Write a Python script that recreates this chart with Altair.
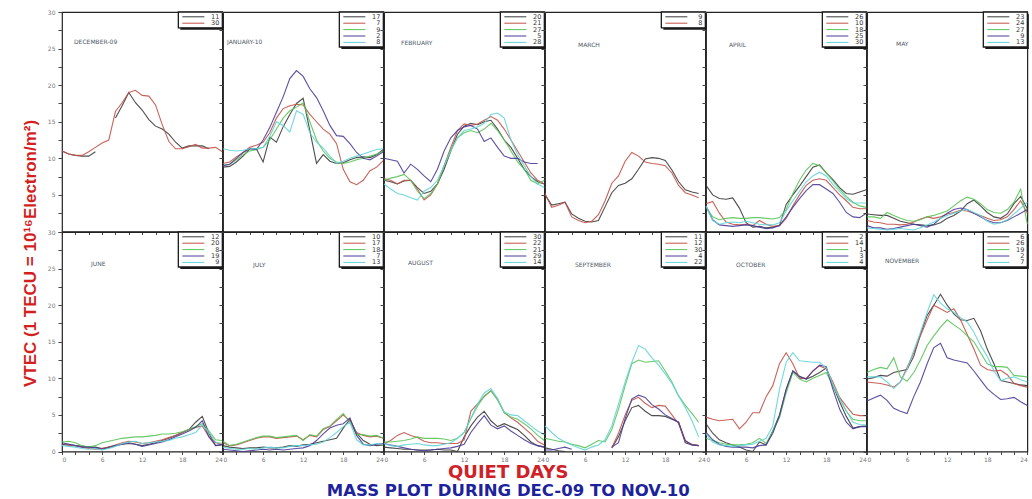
import altair as alt
import pandas as pd

# Hour of day (LT) for every reading; None marks a missing reading.
HOURS = list(range(25))

# Line colour by position of the day in each month's list.
COLORS = ["#3b3b3b", "#c25248", "#58c458", "#4b3c98", "#62d4d8"]

DEC = {
    "11": [11.0, 10.6, 10.4, 10.3, 10.3, 10.9, None, None, 15.5, 17.2, 19.0, 17.6, 16.6, 15.3, 14.4, 14.0, 13.3, 12.2, 11.4, 11.7, 11.7, 11.7, 11.3, None, None],
    "30": [11.0, 10.6, 10.4, 10.4, 10.9, 11.5, 12.1, 12.5, 16.4, 17.6, 19.0, 19.3, 18.6, 18.5, 17.3, 14.6, 12.3, 11.3, 11.3, 11.6, 11.9, 11.4, 11.4, 11.5, 10.9],
}
JAN = {
    "17": [8.8, 8.9, 9.5, 10.3, 11.3, 11.3, 9.5, 12.9, 12.2, 14.3, 16.0, 17.5, 18.2, 13.8, 9.3, 10.5, 9.6, 9.3, 9.4, 9.8, 10.1, 10.2, 10.1, 10.5, 11.2],
    "7": [9.3, 9.5, 10.2, 10.8, 11.5, 11.8, 12.2, 13.5, 15.5, 16.8, 17.2, 17.4, 17.3, 16.0, 15.0, 14.0, 13.3, 12.0, 8.5, 6.8, 6.4, 7.0, 8.3, 8.8, 9.7],
    "9": [9.0, 9.2, 9.8, 10.5, 11.0, 11.2, 11.5, 12.5, 14.0, 15.5, 16.5, 17.0, 17.6, 15.0, 12.5, 11.0, 10.0, 9.5, 9.3, 9.5, 9.8, 10.0, 10.3, 10.6, 11.0],
    "2": [9.0, 9.2, 10.0, 10.8, 11.3, 11.2, 12.5, 14.2, 16.3, 18.4, 20.9, 22.0, 21.2, 19.5, 18.3, 16.5, 14.5, 13.1, 13.0, 12.0, 10.8, 10.0, 9.8, 10.3, 10.9],
    "8": [11.3, 11.1, 11.0, 11.1, 11.3, 11.3, 11.5, 13.0, 15.0, 14.5, 13.6, 16.5, 16.0, 13.5, 12.2, 11.4, 10.3, 9.3, 9.6, 10.0, 10.3, 10.6, 10.9, 11.2, 11.3],
}
FEB = {
    "20": [7.0, 6.8, 6.5, 6.9, 7.0, 6.0, 5.2, 5.5, 6.5, 8.5, 11.0, 13.3, 14.4, 14.8, 14.6, 15.0, 15.2, 14.0, 12.5, 11.5, 10.0, 8.5, 7.5, 6.8, 6.5],
    "21": [7.2, 7.0, 6.5, 7.0, 7.0, 5.8, 4.3, 5.0, 6.5, 9.0, 11.5, 13.8, 14.7, 14.5, 14.7, 15.2, 15.7, 15.2, 14.0, 12.5, 11.0, 9.5, 8.0, 7.0, 6.5],
    "27": [7.0, 7.3, 7.5, 7.8, 7.0, 5.5, 4.5, 5.2, 6.5, 9.0, 11.2, 12.8, 13.5, 13.8, 13.5, 14.0, 14.8, 13.8, 12.5, 11.0, 9.5, 8.5, 7.0, 6.5, 7.0],
    "5": [10.0, 9.8, 9.6, 8.0, 9.2, 8.5, 7.6, 6.8, 8.5, 11.0, 12.8, 13.8, 14.3, 14.5, 14.0, 12.3, 12.8, 11.5, 10.3, 10.0, 10.0, 9.5, 9.3, 9.3, None],
    "28": [6.5, 5.8, 5.2, 5.0, 4.6, 4.3, 5.5, 6.0, 7.0, 9.0, 11.0, 12.8, 13.8, 14.0, 14.3, 14.8, 16.0, 16.2, 15.5, 12.5, 10.5, 9.0, 7.5, 6.5, 6.0],
}
MAR = {
    "9": [5.0, 3.6, 3.8, 4.0, 2.4, 1.8, 1.4, 1.3, 1.5, 3.4, 5.3, 6.3, 6.6, 7.2, 8.5, 9.9, 10.1, 10.0, 9.7, 8.4, 6.8, 5.7, 5.4, 5.2, None],
    "8": [5.2, 3.3, 3.6, 4.0, 2.0, 1.5, 1.2, 1.4, 2.3, 4.2, 6.6, 7.6, 9.6, 10.8, 10.3, 9.5, 9.3, 9.2, 9.0, 8.0, 6.3, 5.3, 5.0, 4.6, None],
}
APR = {
    "26": [6.3, 5.0, 4.5, 4.4, 4.6, 3.2, 1.2, 0.6, 0.7, 0.5, 0.6, 0.8, 3.7, 5.0, 6.2, 7.5, 8.8, 9.1, 8.0, 7.1, 6.0, 5.2, 5.1, 5.4, 5.7],
    "10": [3.8, 4.1, 2.5, 1.3, 1.0, 0.9, 1.0, 0.8, 1.5, 1.0, 0.7, 0.8, 1.8, 3.5, 5.0, 6.3, 7.0, 7.2, 7.0, 6.0, 5.0, 4.2, 3.3, 3.1, 3.1],
    "18": [3.3, 2.0, 1.6, 1.8, 1.9, 1.8, 1.8, 1.9, 1.9, 1.8, 1.7, 1.9, 3.0, 5.2, 7.0, 8.4, 9.3, 9.0, 8.0, 6.9, 5.8, 4.8, 4.0, 3.5, 3.3],
    "25": [3.5, 1.6, 0.9, 0.8, 0.7, 0.8, 0.9, 0.8, 0.6, 0.4, 0.5, 0.8, 2.0, 3.3, 4.5, 5.6, 6.4, 6.4, 5.8, 5.2, 4.0, 2.6, 2.0, 1.9, 2.5],
    "30": [3.5, 1.5, 1.0, 1.2, 1.3, 1.2, 1.4, 1.2, 1.0, 0.9, 0.9, 1.2, 2.8, 4.2, 5.5, 6.8, 7.6, 8.1, 7.6, 6.4, 5.5, 4.5, 3.9, 3.9, 3.9],
}
MAY = {
    "23": [2.4, 2.3, 2.2, 2.2, 1.8, 1.4, 1.2, 1.0, 0.9, 0.8, 0.9, 1.2, 1.8, 2.2, 2.8, 3.8, 4.3, 3.5, 2.6, 2.0, 1.8, 2.4, 3.8, 4.8, 3.1],
    "24": [1.5, 1.3, 1.2, 1.0, 1.0, 0.9, 1.0, 1.3, 1.7, 2.0, 1.8, 2.0, 2.4, 2.6, 2.9, 2.8, 2.5, 2.2, 1.8, 1.5, 1.6, 2.0, 3.0, 4.2, 2.5],
    "27": [2.0, 2.0, 1.8, 2.6, 2.2, 1.8, 1.5, 1.4, 1.6, 2.0, 2.2, 2.5, 2.8, 3.5, 4.2, 4.7, 4.4, 3.8, 3.0, 2.6, 2.5, 3.0, 4.0, 5.8, 1.0],
    "9": [0.8, 0.5, 0.5, 0.3, 0.4, 0.6, 0.8, 1.0, 0.8, 0.6, 1.0, 1.8, 2.5, 3.0, 3.2, 3.0, 2.5, 2.0, 1.5, 1.2, 1.2, 1.5, 2.0, 2.5, 3.0],
    "13": [0.5, 0.4, 0.3, 0.2, 0.3, 0.4, 0.3, 0.2, 0.5, 0.9, 1.3, 1.8, 2.2, 2.5, 2.8, 3.0, 2.6, 2.2, 1.4, 1.0, 1.2, 1.6, 2.4, 3.2, 4.0],
}
JUN = {
    "12": [1.2, 1.0, 0.8, 0.7, 0.6, 0.6, 0.4, 0.6, 0.8, 1.0, 1.1, 1.0, 0.8, 1.0, 1.2, 1.5, 1.8, 2.2, 2.6, 3.0, 4.0, 4.8, 2.5, 0.8, 0.9],
    "20": [1.0, 0.8, 0.8, 0.6, 0.4, 0.3, 0.4, 0.6, 0.9, 1.2, 1.4, 1.3, 1.1, 1.2, 1.4, 1.6, 1.9, 2.2, 2.6, 3.0, 3.3, 3.5, 2.0, 1.2, 1.0],
    "8": [1.3, 1.4, 1.2, 0.8, 0.6, 0.8, 1.2, 1.4, 1.6, 1.8, 1.9, 2.0, 2.0, 2.1, 2.2, 2.4, 2.4, 2.5, 2.7, 3.0, 3.4, 3.8, 2.8, 1.6, 1.5],
    "19": [1.0, 1.0, 0.8, 0.6, 0.6, 0.5, 0.3, 0.5, 0.8, 1.0, 1.2, 1.0, 0.7, 0.9, 1.1, 1.3, 1.6, 2.0, 2.4, 2.8, 3.3, 4.2, 2.0, 0.8, 1.0],
    "9": [0.8, 0.7, 0.6, 0.4, 0.3, 0.4, 0.2, 0.4, 0.7, 1.1, 1.3, 1.4, 1.1, 1.2, 1.3, 1.4, 1.5, 1.8, 2.0, 2.3, 2.6, 3.6, 2.6, 1.3, 1.1],
}
JUL = {
    "10": [0.8, 0.6, 0.5, 0.4, 0.5, 0.5, 0.6, 0.5, 0.5, 0.6, 0.8, 0.7, 0.9, 1.0, 1.2, 1.4, 1.6, 1.8, 3.2, 4.4, 2.5, 1.5, 1.0, 0.8, 0.9],
    "17": [1.2, 0.8, 0.9, 1.2, 1.5, 1.8, 2.0, 2.0, 1.8, 1.9, 2.0, 2.1, 1.6, 2.2, 2.0, 3.0, 3.4, 4.2, 5.0, 4.2, 2.6, 2.2, 2.0, 2.1, 1.8],
    "18": [1.4, 0.8, 1.0, 1.3, 1.6, 1.9, 2.1, 2.1, 1.9, 2.0, 2.1, 2.2, 1.5, 2.3, 2.1, 3.1, 3.5, 4.4, 5.2, 4.0, 2.3, 2.3, 2.1, 2.2, 1.8],
    "7": [0.3, 0.2, 0.1, 0.0, 0.1, 0.2, 0.3, 0.2, 0.3, 0.2, 0.3, 0.4, 0.5, 0.8, 1.5, 2.4, 3.2, 3.6, 3.8, 4.6, 2.2, 1.0, 0.8, 1.0, 1.1],
    "13": [0.6, 0.4, 0.3, 0.3, 0.4, 0.3, 0.5, 0.6, 0.5, 0.5, 0.7, 0.8, 0.8, 0.9, 1.0, 1.3, 1.9, 2.6, 3.4, 4.0, 1.6, 0.9, 0.9, 1.1, 1.0],
}
AUG = {
    "30": [0.6, 0.5, 0.4, 0.3, 0.3, 0.2, 0.2, 0.2, 0.3, 0.2, 0.2, 0.0, 2.0, 3.5, 4.7, 5.5, 4.2, 3.4, 3.8, 3.4, 3.0, 2.2, 1.3, 0.8, 0.6],
    "22": [1.1, 1.5, 2.2, 2.6, 2.2, 1.9, 1.4, 1.2, 1.2, 1.1, 1.1, 1.1, 1.6, 5.5, 6.5, 7.5, 8.3, 7.2, 5.3, 4.6, 4.0, 3.2, 2.4, 1.4, 0.9],
    "21": [1.3, 1.3, 1.4, 1.5, 1.7, 2.0, 1.8, 1.8, 1.8, 1.7, 1.5, 1.8, 2.6, 4.5, 6.2, 7.6, 8.3, 7.0, 5.3, 4.7, 4.4, 3.8, 3.1, 2.2, 1.5],
    "29": [1.1, 0.9, 0.7, 0.5, 0.3, 0.2, 0.1, 0.2, 0.3, 0.4, 0.5, 0.7, 1.0, 2.6, 3.8, 4.9, 3.6, 3.1, 3.5, 2.8, 2.2, 1.6, 1.1, 0.8, 0.6],
    "14": [1.1, 0.8, 0.7, 0.9, 1.0, 1.1, 0.9, 0.8, 0.8, 1.0, 1.2, 1.8, 2.6, 4.5, 6.5, 8.0, 8.6, 7.2, 5.4, 5.0, 4.9, 4.2, 3.5, 2.8, 2.3],
}
SEP = {
    "11": [0.5, 0.3, 0.1, 0.0, None, None, None, None, None, None, 0.5, 2.0, 4.2, 6.0, 6.3, 5.5, 4.9, 4.9, 4.8, 4.4, 4.0, 1.2, 0.9, 0.8, None],
    "12": [None, None, None, None, None, None, None, None, None, None, 0.5, 2.5, 5.0, 7.0, 7.4, 6.6, 6.0, 6.3, 6.2, 5.0, 3.8, 1.4, 1.0, 0.8, None],
    "30": [1.8, 1.6, 1.4, 1.3, 1.0, 0.8, 0.5, 1.0, 1.5, 1.3, 3.0, 5.8, 9.0, 12.0, 12.5, 12.2, 12.3, 12.4, 11.0, 9.5, 7.6, 6.3, 5.2, 4.0, None],
    "4": [0.2, 0.2, 0.4, 0.6, 0.3, None, None, None, None, None, 0.6, 1.2, 4.5, 7.2, 7.7, 7.4, 6.4, 5.8, 5.0, 4.5, 4.0, 1.5, 0.9, 0.8, None],
    "22": [3.5, 2.6, 1.8, 1.3, 0.9, 0.5, 0.2, 0.6, 0.9, 1.6, 3.5, 6.5, 9.5, 12.2, 14.5, 14.0, 12.8, 11.8, 10.6, 9.3, 7.6, 6.0, 4.2, 2.0, None],
}
OCT = {
    "2": [3.8, 2.5, 1.6, 1.2, 0.9, 0.6, 0.2, 0.0, 1.3, 0.9, 2.8, 5.0, 8.5, 11.0, 10.3, 9.9, 10.3, 10.8, 11.4, 9.0, 6.8, 4.8, 3.2, 3.4, 3.5],
    "14": [4.7, 4.4, 4.2, 4.3, 4.4, 3.1, 4.0, 5.3, 5.3, 7.5, 9.0, 12.0, 13.5, 12.0, 10.0, 10.0, 11.0, 11.7, 11.3, 9.5, 7.4, 6.2, 5.1, 4.9, 4.9],
    "1": [1.8, 1.5, 1.2, 1.0, 0.9, 0.9, 1.0, 1.2, 1.8, 1.1, 2.8, 4.6, 8.0, 10.8, 9.9, 9.5, 10.0, 10.4, 10.8, 9.0, 7.2, 5.5, 4.4, 4.2, 4.2],
    "3": [2.6, 1.6, 1.0, 0.7, 0.6, 0.6, 0.6, 0.5, 0.8, 0.9, 2.5, 4.9, 8.5, 11.0, 10.2, 9.9, 11.0, 11.8, 11.6, 8.5, 5.8, 4.0, 3.1, 3.4, 3.4],
    "4": [2.4, 1.3, 0.9, 0.8, 0.7, 0.8, 0.9, 1.0, 1.4, 1.8, 3.5, 8.5, 12.2, 13.5, 12.4, 12.3, 12.2, 12.2, 11.4, 9.2, 7.2, 5.6, 4.0, 3.7, 3.6],
}
NOV = {
    "6": [9.9, 10.1, 10.4, 10.3, 10.8, 11.0, 11.2, 13.0, 16.0, 18.6, 20.0, 21.5, 20.0, 18.8, 18.0, 17.9, 18.2, 16.5, 14.0, 12.0, 9.7, 9.5, 9.3, 9.1, 9.0],
    "26": [9.5, 9.4, 9.3, 9.1, 8.8, 9.5, 11.5, 13.5, 15.8, 18.0, 20.0, 19.5, 19.0, 19.5, 18.0, 16.0, 14.0, 11.8, 11.2, 11.0, 11.1, 10.5, 9.3, 9.0, 8.8],
    "19": [10.8, 11.2, 11.5, 11.3, 12.8, 10.2, 9.6, 10.8, 12.5, 14.5, 15.8, 17.0, 18.0, 17.3, 16.7, 15.8, 15.0, 13.5, 12.0, 11.6, 11.6, 11.5, 10.4, 10.3, 10.2],
    "2": [6.9, 7.3, 7.7, 7.0, 5.9, 5.5, 5.2, 7.5, 9.5, 12.0, 14.2, 14.8, 12.8, 12.5, 12.3, 12.1, 11.0, 9.8, 8.6, 7.8, 7.1, 7.2, 7.4, 6.8, 6.3],
    "7": [10.2, 10.2, 10.2, 9.5, 8.6, 9.5, 11.2, 13.8, 16.3, 19.0, 21.4, 20.3, 19.5, 19.0, 18.3, 17.7, 16.3, 14.5, 13.0, 11.0, 9.7, 10.0, 10.2, 9.8, 9.5],
}

MONTHS = [
    ("DECEMBER-09", DEC), ("JANUARY-10", JAN), ("FEBRUARY", FEB),
    ("MARCH", MAR), ("APRIL", APR), ("MAY", MAY),
    ("JUNE", JUN), ("JULY", JUL), ("AUGUST", AUG),
    ("SEPTEMBER", SEP), ("OCTOBER", OCT), ("NOVEMBER", NOV),
]

Y_TITLE = "VTEC (1 TECU = 10\u00b9\u2076Electron/m\u00b2)"
TITLE = "QUIET DAYS"
SUBTITLE = "MASS PLOT DURING DEC-09 TO NOV-10"

# Layout (pixels)
PW, PH = 160.33, 219.5
LABEL_POS = [(12, 30), (4, 30), (17, 31), (33, 33), (23, 33), (29, 32),
             (29, 32), (30, 33), (24, 31), (30, 33), (30, 33), (18, 29)]

color_scale = alt.Scale(domain=["1", "2", "3", "4", "5"], range=COLORS)


def long_table(series):
    rows = []
    for i, vals in enumerate(series.values()):
        part = 0
        for h, v in zip(HOURS, vals):
            if v is None:
                part += 1
                continue
            rows.append({"h": h, "v": v, "k": str(i + 1), "seg": f"{i}-{part}"})
    return pd.DataFrame(rows)


def panel(idx, name, series):
    row, col = divmod(idx, 6)
    df = long_table(series)

    if row == 1:
        x_axis = alt.Axis(values=list(range(0, 25, 2)), title=None, grid=False, domain=False,
                          tickSize=3, tickColor="#444", labelFontSize=6, labelColor="#777",
                          labelPadding=2, labelFont="DejaVu Sans",
                          labelExpr="datum.value % 6 == 0 ? datum.label : ''")
    else:
        x_axis = alt.Axis(values=list(range(0, 25, 2)), title=None, grid=False, domain=False,
                          tickSize=3, tickColor="#444", labels=False)

    y_vals = [v * 2.5 for v in range(13)]
    if col == 0:
        cond = "datum.value % 5 == 0" + (" && datum.value > 0" if row == 0 else "")
        y_kw = dict(labelExpr=f"{cond} ? datum.label : ''", labelFontSize=6,
                    labelColor="#777", labelFont="DejaVu Sans", labelPadding=3)
    else:
        y_kw = dict(labels=False)
    if idx == 0:
        y_kw.update(title=Y_TITLE, titleAngle=270, titleX=-32, titleY=241,
                    titleAlign="center", titleBaseline="middle",
                    titleFont="Liberation Sans", titleFontSize=17,
                    titleFontWeight="bold", titleColor="#d41f1f")
    else:
        y_kw.update(title=None)
    y_axis = alt.Axis(values=y_vals, grid=False, domain=False, tickSize=4,
                      tickColor="#444", **y_kw)

    lines = alt.Chart(df).mark_line(strokeWidth=1.1, opacity=0.9).encode(
        x=alt.X("h:Q", scale=alt.Scale(domain=[0, 24], nice=False), axis=x_axis),
        y=alt.Y("v:Q", scale=alt.Scale(domain=[0, 30], nice=False), axis=y_axis),
        color=alt.Color("k:N", scale=color_scale, legend=None),
        detail="seg:N",
        order="h:Q",
    )

    # key box in the top-right corner
    days = list(series.keys())
    n = len(days)
    box_h = 6.4 * n + 3
    leg = pd.DataFrame({"day": days, "k": [str(i + 1) for i in range(n)], "i": list(range(n))})
    one = pd.DataFrame({"n": [n]})
    shadow = alt.Chart(one).mark_rect(fill="#1a1a1a").encode(
        x=alt.value(PW - 42), x2=alt.value(PW + 1.5), y=alt.value(2), y2=alt.value(box_h + 2))
    box = alt.Chart(one).mark_rect(fill="white", stroke="#1a1a1a", strokeWidth=1.3).encode(
        x=alt.value(PW - 44), x2=alt.value(PW), y=alt.value(0), y2=alt.value(box_h))
    key_lines = alt.Chart(leg).transform_calculate(ly="4.8 + 6.4*datum.i").mark_rule(strokeWidth=1).encode(
        x=alt.value(PW - 40), x2=alt.value(PW - 18),
        y=alt.Y("ly:Q", scale=None, axis=None),
        color=alt.Color("k:N", scale=color_scale, legend=None),
    )
    key_text = alt.Chart(leg).transform_calculate(ly="4.8 + 6.4*datum.i").mark_text(
        align="right", baseline="middle", fontSize=6.5, font="DejaVu Sans", color="#333"
    ).encode(x=alt.value(PW - 3), y=alt.Y("ly:Q", scale=None, axis=None), text="day:N")

    lx, ly = LABEL_POS[idx]
    label = alt.Chart(pd.DataFrame({"m": [name]})).mark_text(
        align="left", baseline="middle", fontSize=6, font="DejaVu Sans", color="#4d5866"
    ).encode(x=alt.value(lx), y=alt.value(ly), text="m:N")

    return alt.layer(lines, shadow, box, key_lines, key_text, label).resolve_scale(
        y="independent").properties(width=PW, height=PH)


panels = [panel(i, name, s) for i, (name, s) in enumerate(MONTHS)]

chart = alt.concat(*panels, columns=6, spacing=0, bounds="flush").properties(
    title=alt.TitleParams(
        text=TITLE, subtitle=SUBTITLE, orient="bottom", anchor="middle",
        font="DejaVu Sans", fontSize=18, fontWeight="bold", color="#cf2127",
        subtitleFont="DejaVu Sans", subtitleFontSize=16.5, subtitleFontWeight="bold",
        subtitleColor="#1d239a", subtitlePadding=1, offset=1, dx=-17,
    ),
    padding={"left": 20, "top": 8, "right": 0, "bottom": 0},
).configure_view(stroke="#222", strokeWidth=1.2)

chart.save("out.html", embed_options={"renderer": "svg", "actions": False})
